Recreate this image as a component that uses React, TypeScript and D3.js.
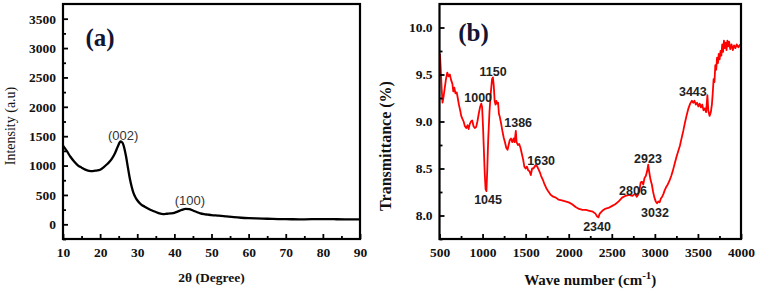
import React, { useRef, useEffect } from 'react';
import * as d3 from 'd3';

// XRD pattern (panel a)
const xrdAngle = [10, 11, 12, 13, 14, 15, 16, 17, 18, 19, 20, 21, 22, 23, 24, 24.8, 25.5, 26, 26.5, 27, 27.5, 28, 28.5, 29, 29.5, 30, 31, 32, 33, 34, 35, 36, 37, 38, 39, 40, 41, 42, 43, 44, 45, 46, 47, 48, 49, 50, 52, 54, 56, 58, 60, 62, 65, 68, 70, 72, 75, 78, 80, 83, 86, 90];
const xrdIntensity = [1340, 1250, 1150, 1070, 1005, 965, 930, 910, 905, 915, 930, 975, 1030, 1100, 1210, 1330, 1410, 1390, 1300, 1150, 960, 780, 640, 530, 460, 410, 340, 300, 265, 235, 210, 185, 175, 180, 185, 195, 220, 245, 262, 258, 235, 210, 185, 172, 165, 158, 148, 135, 122, 112, 105, 100, 95, 90, 87, 86, 85, 88, 90, 87, 85, 85];
const xrdPeaks = [
  { label: '(002)', angle: 26.2, y: 1520 },
  { label: '(100)', angle: 44.2, y: 397 },
];
const xrdXTicks = [10, 20, 30, 40, 50, 60, 70, 80, 90];
const xrdYTicks = [0, 500, 1000, 1500, 2000, 2500, 3000, 3500];

// FTIR spectrum (panel b)
const ftirWave = [505, 515, 525, 535, 545, 560, 575, 590, 605, 620, 635, 650, 660, 672, 685, 700, 712, 725, 740, 752, 765, 780, 795, 810, 825, 838, 850, 865, 880, 895, 910, 925, 940, 955, 970, 985, 995, 1005, 1015, 1025, 1035, 1045, 1055, 1065, 1080, 1095, 1110, 1120, 1130, 1140, 1150, 1160, 1170, 1180, 1190, 1200, 1215, 1230, 1245, 1260, 1275, 1290, 1300, 1315, 1330, 1345, 1360, 1372, 1386, 1395, 1410, 1425, 1440, 1455, 1470, 1485, 1500, 1515, 1530, 1545, 1560, 1575, 1590, 1605, 1620, 1635, 1650, 1665, 1680, 1700, 1720, 1740, 1760, 1790, 1820, 1850, 1880, 1920, 1960, 2000, 2040, 2080, 2120, 2160, 2200, 2240, 2280, 2310, 2330, 2345, 2360, 2390, 2420, 2460, 2500, 2540, 2580, 2620, 2660, 2700, 2740, 2770, 2790, 2806, 2820, 2835, 2850, 2865, 2880, 2895, 2910, 2923, 2935, 2950, 2965, 2980, 2995, 3010, 3025, 3040, 3055, 3070, 3085, 3100, 3115, 3130, 3150, 3170, 3190, 3210, 3230, 3250, 3270, 3290, 3310, 3330, 3350, 3370, 3390, 3410, 3430, 3445, 3460, 3475, 3490, 3505, 3520, 3535, 3550, 3565, 3580, 3595, 3610, 3620, 3635, 3650, 3662, 3672, 3682, 3692, 3702, 3712, 3722, 3732, 3742, 3752, 3762, 3772, 3782, 3792, 3802, 3812, 3822, 3832, 3842, 3852, 3862, 3875, 3890, 3905, 3920, 3935, 3950, 3970, 3990];
const ftirT = [9.72, 9.55, 9.35, 9.2, 9.25, 9.35, 9.45, 9.52, 9.48, 9.5, 9.44, 9.4, 9.32, 9.36, 9.3, 9.31, 9.25, 9.18, 9.12, 9.06, 9.03, 9.0, 8.95, 8.93, 8.96, 8.92, 8.97, 9.0, 9.01, 8.95, 8.93, 8.94, 9.0, 9.08, 9.15, 9.19, 9.15, 8.95, 8.7, 8.45, 8.28, 8.26, 8.5, 8.8, 9.1, 9.3, 9.45, 9.47, 9.38, 9.22, 9.18, 9.22, 9.19, 9.2, 9.08, 9.05, 8.98, 8.9, 8.83, 8.78, 8.72, 8.7, 8.74, 8.8, 8.82, 8.78, 8.82, 8.78, 8.9, 8.78, 8.75, 8.76, 8.72, 8.66, 8.6, 8.52, 8.5, 8.52, 8.48, 8.47, 8.43, 8.5, 8.5, 8.52, 8.54, 8.52, 8.49, 8.46, 8.42, 8.38, 8.33, 8.29, 8.26, 8.22, 8.2, 8.19, 8.17, 8.16, 8.15, 8.14, 8.12, 8.09, 8.07, 8.06, 8.06, 8.05, 8.04, 8.02, 7.99, 7.98, 8.02, 8.05, 8.07, 8.08, 8.1, 8.12, 8.15, 8.19, 8.21, 8.22, 8.21, 8.23, 8.2, 8.22, 8.26, 8.35, 8.36, 8.33, 8.4, 8.42, 8.47, 8.54, 8.46, 8.38, 8.33, 8.25, 8.19, 8.15, 8.13, 8.15, 8.14, 8.18, 8.2, 8.23, 8.27, 8.3, 8.33, 8.37, 8.42, 8.48, 8.55, 8.62, 8.68, 8.74, 8.82, 8.9, 8.99, 9.07, 9.14, 9.19, 9.22, 9.2, 9.22, 9.18, 9.2, 9.16, 9.19, 9.15, 9.18, 9.12, 9.14, 9.1, 9.28, 9.12, 9.06, 9.1, 9.18, 9.3, 9.45, 9.42, 9.6, 9.55, 9.68, 9.62, 9.72, 9.66, 9.75, 9.7, 9.82, 9.74, 9.86, 9.78, 9.84, 9.76, 9.86, 9.8, 9.85, 9.77, 9.82, 9.76, 9.81, 9.78, 9.82, 9.79, 9.82];
const ftirBands = [
  { label: '1000', wave: 949, y: 9.25 },
  { label: '1150', wave: 1123, y: 9.53 },
  { label: '1386', wave: 1413, y: 8.98 },
  { label: '3443', wave: 3441, y: 9.31 },
  { label: '1630', wave: 1680, y: 8.58 },
  { label: '1045', wave: 1064, y: 8.16 },
  { label: '2806', wave: 2746, y: 8.26 },
  { label: '2923', wave: 2920, y: 8.6 },
  { label: '3032', wave: 3001, y: 8.03 },
  { label: '2340', wave: 2329, y: 7.88 },
];
const ftirXTicks = [500, 1000, 1500, 2000, 2500, 3000, 3500, 4000];
const ftirYTicks = [8.0, 8.5, 9.0, 9.5, 10.0];

const SERIF = '"Liberation Serif", "Times New Roman", serif';
const SANS = '"Liberation Sans", Arial, sans-serif';

type Frame = { left: number; right: number; top: number; bottom: number };

function drawFrame(
  g: d3.Selection<SVGGElement, unknown, null, undefined>,
  f: Frame,
  x: d3.ScaleLinear<number, number>,
  y: d3.ScaleLinear<number, number>,
  xTicks: number[],
  xMinor: number[],
  yTicks: number[],
  yMinor: number[],
  xFmt: (d: number) => string,
  yFmt: (d: number) => string,
) {
  // minor ticks
  g.append('g')
    .attr('transform', `translate(0,${f.bottom})`)
    .call(d3.axisBottom(x).tickValues(xMinor).tickSize(-3).tickFormat(() => ''))
    .call(s => s.select('.domain').remove());
  g.append('g')
    .attr('transform', `translate(${f.left},0)`)
    .call(d3.axisLeft(y).tickValues(yMinor).tickSize(-3).tickFormat(() => ''))
    .call(s => s.select('.domain').remove());

  // major ticks + labels
  const xa = g.append('g')
    .attr('transform', `translate(0,${f.bottom})`)
    .call(d3.axisBottom(x).tickValues(xTicks).tickSize(-5).tickPadding(8).tickFormat(d => xFmt(+d)));
  xa.select('.domain').remove();
  const ya = g.append('g')
    .attr('transform', `translate(${f.left},0)`)
    .call(d3.axisLeft(y).tickValues(yTicks).tickSize(-5).tickPadding(7).tickFormat(d => yFmt(+d)));
  ya.select('.domain').remove();

  g.selectAll('.tick line').attr('stroke', '#000').attr('stroke-width', 1.8);
  g.selectAll('.tick text')
    .attr('font-family', SERIF)
    .attr('font-weight', 'bold')
    .attr('font-size', 13.5)
    .attr('fill', '#111');

  g.append('rect')
    .attr('x', f.left)
    .attr('y', f.top)
    .attr('width', f.right - f.left)
    .attr('height', f.bottom - f.top)
    .attr('fill', 'none')
    .attr('stroke', '#000')
    .attr('stroke-width', 2.2);
}

const App = () => {
  const ref = useRef<SVGSVGElement>(null);

  useEffect(() => {
    const svg = d3.select(ref.current);
    svg.selectAll('*').remove();

    // ---- panel (a): XRD ----
    const fa: Frame = { left: 63, right: 360, top: 4, bottom: 239 };
    const xA = d3.scaleLinear().domain([10, 90]).range([fa.left, fa.right]);
    const yA = d3.scaleLinear().domain([-250, 3750]).range([fa.bottom, fa.top]);
    const ga = svg.append('g');

    ga.append('path')
      .datum(xrdAngle.map((a, i) => [a, xrdIntensity[i]] as [number, number]))
      .attr('fill', 'none')
      .attr('stroke', '#000')
      .attr('stroke-width', 2.3)
      .attr('stroke-linejoin', 'round')
      .attr('d', d3.line<[number, number]>().x(d => xA(d[0])).y(d => yA(d[1])).curve(d3.curveMonotoneX));

    drawFrame(ga, fa, xA, yA,
      xrdXTicks, d3.range(15, 90, 10),
      xrdYTicks, d3.range(-250, 3750, 500),
      d => String(d), d => String(d));

    ga.selectAll('text.peak')
      .data(xrdPeaks)
      .enter()
      .append('text')
      .attr('class', 'peak')
      .attr('x', d => xA(d.angle))
      .attr('y', d => yA(d.y))
      .attr('text-anchor', 'middle')
      .attr('dominant-baseline', 'central')
      .attr('font-family', SANS)
      .attr('font-size', 13)
      .attr('fill', '#333')
      .text(d => d.label);

    ga.append('text')
      .attr('x', fa.left + 37)
      .attr('y', 37)
      .attr('text-anchor', 'middle')
      .attr('dominant-baseline', 'central')
      .attr('font-family', SERIF)
      .attr('font-weight', 'bold')
      .attr('font-size', 25)
      .attr('fill', '#141433')
      .text('(a)');

    ga.append('text')
      .attr('x', (fa.left + fa.right) / 2)
      .attr('y', 277)
      .attr('text-anchor', 'middle')
      .attr('dominant-baseline', 'central')
      .attr('font-family', SERIF)
      .attr('font-weight', 'bold')
      .attr('font-size', 13.5)
      .attr('fill', '#111')
      .text('2θ (Degree)');

    ga.append('text')
      .attr('transform', `translate(10,126) rotate(-90)`)
      .attr('text-anchor', 'middle')
      .attr('dominant-baseline', 'central')
      .attr('font-family', SERIF)
      .attr('font-size', 14)
      .attr('fill', '#111')
      .text('Intensity (a.u)');

    // ---- panel (b): FTIR ----
    const fb: Frame = { left: 439.5, right: 741, top: 4, bottom: 239 };
    const xB = d3.scaleLinear().domain([500, 4000]).range([fb.left, fb.right]);
    const yB = d3.scaleLinear().domain([7.75, 10.25]).range([fb.bottom, fb.top]);
    const gb = svg.append('g');

    gb.append('path')
      .datum(ftirWave.map((w, i) => [w, ftirT[i]] as [number, number]))
      .attr('fill', 'none')
      .attr('stroke', '#ff0000')
      .attr('stroke-width', 1.8)
      .attr('stroke-linejoin', 'round')
      .attr('d', d3.line<[number, number]>().x(d => xB(d[0])).y(d => yB(d[1])));

    drawFrame(gb, fb, xB, yB,
      ftirXTicks, d3.range(750, 4000, 500),
      ftirYTicks, [7.75, 8.25, 8.75, 9.25, 9.75],
      d => String(d), d => d.toFixed(1));

    gb.selectAll('text.band')
      .data(ftirBands)
      .enter()
      .append('text')
      .attr('class', 'band')
      .attr('x', d => xB(d.wave))
      .attr('y', d => yB(d.y))
      .attr('text-anchor', 'middle')
      .attr('dominant-baseline', 'central')
      .attr('font-family', SANS)
      .attr('font-weight', 'bold')
      .attr('font-size', 12.5)
      .attr('fill', '#222')
      .text(d => d.label);

    gb.append('text')
      .attr('x', fb.left + 34)
      .attr('y', 32)
      .attr('text-anchor', 'middle')
      .attr('dominant-baseline', 'central')
      .attr('font-family', SERIF)
      .attr('font-weight', 'bold')
      .attr('font-size', 25)
      .attr('fill', '#141433')
      .text('(b)');

    const xt = gb.append('text')
      .attr('x', (fb.left + fb.right) / 2)
      .attr('y', 285)
      .attr('text-anchor', 'middle')
      .attr('font-family', SERIF)
      .attr('font-weight', 'bold')
      .attr('font-size', 15)
      .attr('fill', '#111');
    xt.append('tspan').text('Wave number (cm');
    xt.append('tspan').attr('dy', -6).attr('font-size', 11).text('-1');
    xt.append('tspan').attr('dy', 6).text(')');

    gb.append('text')
      .attr('transform', `translate(385,146) rotate(-90)`)
      .attr('text-anchor', 'middle')
      .attr('dominant-baseline', 'central')
      .attr('font-family', SERIF)
      .attr('font-weight', 'bold')
      .attr('font-size', 16)
      .attr('fill', '#111')
      .text('Transmittance (%)');
  }, []);

  return (
    <svg
      ref={ref}
      width={757}
      height={293}
      style={{ position: 'absolute', left: 0, top: 0, background: '#fff' }}
    />
  );
};

export default App;
